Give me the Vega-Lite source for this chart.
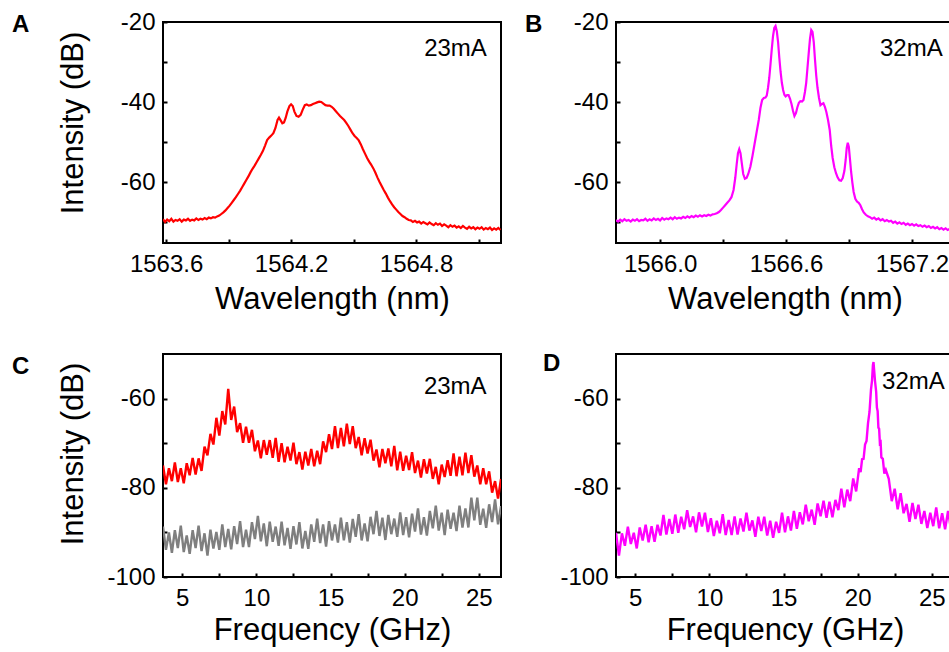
{
  "$schema": "https://vega.github.io/schema/vega-lite/v6.json",
  "padding": {"left": 11, "top": 9, "right": 0, "bottom": 0},
  "background": "white",
  "config": {
    "font": "Liberation Sans",
    "view": {"stroke": "black", "strokeWidth": 2},
    "axis": {"grid": false, "domain": false, "tickColor": "black", "tickWidth": 2, "tickSize": -4, "labelFont": "Liberation Sans", "labelFontSize": 24, "labelColor": "black", "labelPadding": 13, "labelFlush": false, "labelOverlap": false, "labelBound": false, "titleFont": "Liberation Sans", "titleFontSize": 31, "titleFontWeight": "normal", "titleColor": "black"},
    "title": {"font": "Liberation Sans", "fontSize": 24, "fontWeight": "bold", "color": "black", "anchor": "start", "frame": "group", "offset": 0},
    "text": {"font": "Liberation Sans", "fontSize": 24, "color": "black"}
  },
  "bounds": "flush",
  "columns": 2,
  "spacing": {"row": 111, "column": 115},
  "datasets": {
    "a": [{"nm":1563.585,"dB":-69.3},{"nm":1563.595,"dB":-70.0},{"nm":1563.605,"dB":-69.4},{"nm":1563.615,"dB":-69.8},{"nm":1563.625,"dB":-69.2},{"nm":1563.635,"dB":-69.9},{"nm":1563.645,"dB":-69.5},{"nm":1563.655,"dB":-69.7},{"nm":1563.665,"dB":-69.3},{"nm":1563.675,"dB":-69.9},{"nm":1563.685,"dB":-69.4},{"nm":1563.695,"dB":-69.6},{"nm":1563.705,"dB":-69.2},{"nm":1563.715,"dB":-69.7},{"nm":1563.725,"dB":-69.4},{"nm":1563.735,"dB":-69.6},{"nm":1563.745,"dB":-69.1},{"nm":1563.755,"dB":-69.5},{"nm":1563.765,"dB":-69.2},{"nm":1563.775,"dB":-69.4},{"nm":1563.785,"dB":-69.0},{"nm":1563.795,"dB":-69.3},{"nm":1563.805,"dB":-68.9},{"nm":1563.815,"dB":-69.1},{"nm":1563.825,"dB":-68.8},{"nm":1563.835,"dB":-68.9},{"nm":1563.845,"dB":-68.6},{"nm":1563.855,"dB":-68.4},{"nm":1563.865,"dB":-68.0},{"nm":1563.875,"dB":-67.6},{"nm":1563.885,"dB":-67.1},{"nm":1563.895,"dB":-66.5},{"nm":1563.905,"dB":-65.9},{"nm":1563.915,"dB":-65.2},{"nm":1563.925,"dB":-64.5},{"nm":1563.935,"dB":-63.8},{"nm":1563.945,"dB":-63.0},{"nm":1563.955,"dB":-62.2},{"nm":1563.965,"dB":-61.3},{"nm":1563.975,"dB":-60.4},{"nm":1563.985,"dB":-59.5},{"nm":1563.995,"dB":-58.6},{"nm":1564.005,"dB":-57.6},{"nm":1564.015,"dB":-56.7},{"nm":1564.025,"dB":-55.9},{"nm":1564.035,"dB":-55.0},{"nm":1564.045,"dB":-54.1},{"nm":1564.055,"dB":-53.2},{"nm":1564.065,"dB":-52.2},{"nm":1564.075,"dB":-50.9},{"nm":1564.085,"dB":-49.5},{"nm":1564.095,"dB":-48.9},{"nm":1564.105,"dB":-48.4},{"nm":1564.115,"dB":-47.8},{"nm":1564.125,"dB":-46.5},{"nm":1564.135,"dB":-44.5},{"nm":1564.142,"dB":-43.9},{"nm":1564.150,"dB":-44.6},{"nm":1564.158,"dB":-45.3},{"nm":1564.166,"dB":-45.1},{"nm":1564.174,"dB":-44.0},{"nm":1564.182,"dB":-42.4},{"nm":1564.192,"dB":-41.0},{"nm":1564.200,"dB":-40.6},{"nm":1564.208,"dB":-41.0},{"nm":1564.216,"dB":-42.4},{"nm":1564.226,"dB":-43.5},{"nm":1564.236,"dB":-43.7},{"nm":1564.246,"dB":-43.2},{"nm":1564.256,"dB":-41.9},{"nm":1564.266,"dB":-40.8},{"nm":1564.275,"dB":-40.6},{"nm":1564.285,"dB":-40.9},{"nm":1564.295,"dB":-40.8},{"nm":1564.305,"dB":-40.5},{"nm":1564.315,"dB":-40.3},{"nm":1564.325,"dB":-40.1},{"nm":1564.335,"dB":-39.9},{"nm":1564.345,"dB":-40.0},{"nm":1564.355,"dB":-40.4},{"nm":1564.365,"dB":-40.8},{"nm":1564.375,"dB":-40.9},{"nm":1564.385,"dB":-40.9},{"nm":1564.395,"dB":-41.2},{"nm":1564.405,"dB":-41.7},{"nm":1564.415,"dB":-42.3},{"nm":1564.425,"dB":-42.9},{"nm":1564.435,"dB":-43.5},{"nm":1564.445,"dB":-44.0},{"nm":1564.455,"dB":-44.5},{"nm":1564.465,"dB":-45.2},{"nm":1564.475,"dB":-46.0},{"nm":1564.485,"dB":-46.9},{"nm":1564.495,"dB":-47.8},{"nm":1564.505,"dB":-48.5},{"nm":1564.515,"dB":-49.0},{"nm":1564.525,"dB":-49.6},{"nm":1564.535,"dB":-50.6},{"nm":1564.545,"dB":-51.8},{"nm":1564.555,"dB":-52.9},{"nm":1564.565,"dB":-54.0},{"nm":1564.575,"dB":-54.9},{"nm":1564.585,"dB":-55.7},{"nm":1564.595,"dB":-56.6},{"nm":1564.605,"dB":-57.7},{"nm":1564.615,"dB":-58.9},{"nm":1564.625,"dB":-60.0},{"nm":1564.635,"dB":-61.0},{"nm":1564.645,"dB":-62.0},{"nm":1564.655,"dB":-62.9},{"nm":1564.665,"dB":-63.9},{"nm":1564.675,"dB":-64.8},{"nm":1564.685,"dB":-65.6},{"nm":1564.695,"dB":-66.3},{"nm":1564.705,"dB":-66.9},{"nm":1564.715,"dB":-67.5},{"nm":1564.725,"dB":-68.0},{"nm":1564.735,"dB":-68.5},{"nm":1564.745,"dB":-68.8},{"nm":1564.755,"dB":-69.2},{"nm":1564.765,"dB":-69.5},{"nm":1564.775,"dB":-69.6},{"nm":1564.785,"dB":-70.0},{"nm":1564.795,"dB":-69.7},{"nm":1564.805,"dB":-70.1},{"nm":1564.815,"dB":-69.9},{"nm":1564.825,"dB":-70.4},{"nm":1564.835,"dB":-70.0},{"nm":1564.845,"dB":-70.3},{"nm":1564.855,"dB":-70.6},{"nm":1564.865,"dB":-70.1},{"nm":1564.875,"dB":-70.5},{"nm":1564.885,"dB":-70.8},{"nm":1564.895,"dB":-70.3},{"nm":1564.905,"dB":-70.7},{"nm":1564.915,"dB":-70.4},{"nm":1564.925,"dB":-71.0},{"nm":1564.935,"dB":-70.6},{"nm":1564.945,"dB":-70.9},{"nm":1564.955,"dB":-71.3},{"nm":1564.965,"dB":-70.8},{"nm":1564.975,"dB":-71.2},{"nm":1564.985,"dB":-70.9},{"nm":1564.995,"dB":-71.4},{"nm":1565.005,"dB":-71.1},{"nm":1565.015,"dB":-71.5},{"nm":1565.025,"dB":-71.0},{"nm":1565.035,"dB":-71.4},{"nm":1565.045,"dB":-71.7},{"nm":1565.055,"dB":-71.2},{"nm":1565.065,"dB":-71.6},{"nm":1565.075,"dB":-71.3},{"nm":1565.085,"dB":-71.8},{"nm":1565.095,"dB":-71.4},{"nm":1565.105,"dB":-71.7},{"nm":1565.115,"dB":-71.3},{"nm":1565.125,"dB":-71.9},{"nm":1565.135,"dB":-71.5},{"nm":1565.145,"dB":-71.8},{"nm":1565.155,"dB":-71.4},{"nm":1565.165,"dB":-72.0},{"nm":1565.175,"dB":-71.6},{"nm":1565.185,"dB":-71.9},{"nm":1565.195,"dB":-71.5},{"nm":1565.205,"dB":-72.0}],
    "b": [{"nm":1565.790,"dB":-69.5},{"nm":1565.800,"dB":-69.9},{"nm":1565.810,"dB":-69.4},{"nm":1565.820,"dB":-69.8},{"nm":1565.830,"dB":-69.3},{"nm":1565.840,"dB":-69.7},{"nm":1565.850,"dB":-69.5},{"nm":1565.860,"dB":-69.9},{"nm":1565.870,"dB":-69.4},{"nm":1565.880,"dB":-69.7},{"nm":1565.890,"dB":-69.3},{"nm":1565.900,"dB":-69.8},{"nm":1565.910,"dB":-69.5},{"nm":1565.920,"dB":-69.6},{"nm":1565.930,"dB":-69.2},{"nm":1565.940,"dB":-69.7},{"nm":1565.950,"dB":-69.3},{"nm":1565.960,"dB":-69.6},{"nm":1565.970,"dB":-69.1},{"nm":1565.980,"dB":-69.5},{"nm":1565.990,"dB":-69.2},{"nm":1566.000,"dB":-69.6},{"nm":1566.010,"dB":-69.0},{"nm":1566.020,"dB":-69.4},{"nm":1566.030,"dB":-69.1},{"nm":1566.040,"dB":-69.3},{"nm":1566.050,"dB":-68.9},{"nm":1566.060,"dB":-69.3},{"nm":1566.070,"dB":-68.8},{"nm":1566.080,"dB":-69.2},{"nm":1566.090,"dB":-68.9},{"nm":1566.100,"dB":-69.1},{"nm":1566.110,"dB":-68.7},{"nm":1566.120,"dB":-69.0},{"nm":1566.130,"dB":-68.6},{"nm":1566.140,"dB":-68.9},{"nm":1566.150,"dB":-68.5},{"nm":1566.160,"dB":-68.8},{"nm":1566.170,"dB":-68.4},{"nm":1566.180,"dB":-68.7},{"nm":1566.190,"dB":-68.3},{"nm":1566.200,"dB":-68.6},{"nm":1566.210,"dB":-68.3},{"nm":1566.220,"dB":-68.5},{"nm":1566.230,"dB":-68.2},{"nm":1566.240,"dB":-68.4},{"nm":1566.250,"dB":-68.1},{"nm":1566.260,"dB":-68.0},{"nm":1566.270,"dB":-67.8},{"nm":1566.280,"dB":-67.5},{"nm":1566.290,"dB":-67.0},{"nm":1566.300,"dB":-66.4},{"nm":1566.310,"dB":-65.8},{"nm":1566.320,"dB":-65.2},{"nm":1566.330,"dB":-64.6},{"nm":1566.340,"dB":-63.8},{"nm":1566.350,"dB":-62.0},{"nm":1566.358,"dB":-59.0},{"nm":1566.365,"dB":-55.5},{"nm":1566.371,"dB":-52.8},{"nm":1566.377,"dB":-51.8},{"nm":1566.383,"dB":-52.8},{"nm":1566.389,"dB":-55.2},{"nm":1566.396,"dB":-58.0},{"nm":1566.404,"dB":-59.2},{"nm":1566.412,"dB":-59.0},{"nm":1566.420,"dB":-58.0},{"nm":1566.430,"dB":-56.2},{"nm":1566.440,"dB":-53.5},{"nm":1566.450,"dB":-50.5},{"nm":1566.460,"dB":-47.5},{"nm":1566.470,"dB":-44.5},{"nm":1566.478,"dB":-41.5},{"nm":1566.486,"dB":-39.5},{"nm":1566.494,"dB":-39.0},{"nm":1566.502,"dB":-38.9},{"nm":1566.508,"dB":-38.4},{"nm":1566.514,"dB":-36.5},{"nm":1566.520,"dB":-34.0},{"nm":1566.526,"dB":-30.5},{"nm":1566.532,"dB":-26.8},{"nm":1566.538,"dB":-23.5},{"nm":1566.544,"dB":-21.5},{"nm":1566.550,"dB":-21.0},{"nm":1566.556,"dB":-22.3},{"nm":1566.562,"dB":-25.0},{"nm":1566.568,"dB":-29.0},{"nm":1566.574,"dB":-32.5},{"nm":1566.580,"dB":-35.2},{"nm":1566.586,"dB":-37.0},{"nm":1566.592,"dB":-38.2},{"nm":1566.598,"dB":-38.6},{"nm":1566.605,"dB":-38.3},{"nm":1566.612,"dB":-38.3},{"nm":1566.619,"dB":-39.2},{"nm":1566.626,"dB":-40.5},{"nm":1566.633,"dB":-42.2},{"nm":1566.640,"dB":-43.5},{"nm":1566.647,"dB":-42.8},{"nm":1566.654,"dB":-41.3},{"nm":1566.661,"dB":-40.2},{"nm":1566.668,"dB":-39.8},{"nm":1566.676,"dB":-39.9},{"nm":1566.683,"dB":-39.5},{"nm":1566.690,"dB":-37.5},{"nm":1566.696,"dB":-35.2},{"nm":1566.702,"dB":-31.5},{"nm":1566.708,"dB":-27.8},{"nm":1566.714,"dB":-24.2},{"nm":1566.720,"dB":-22.0},{"nm":1566.726,"dB":-22.5},{"nm":1566.732,"dB":-25.0},{"nm":1566.738,"dB":-29.5},{"nm":1566.744,"dB":-33.5},{"nm":1566.750,"dB":-36.5},{"nm":1566.757,"dB":-39.0},{"nm":1566.764,"dB":-40.8},{"nm":1566.771,"dB":-40.5},{"nm":1566.778,"dB":-40.3},{"nm":1566.785,"dB":-41.2},{"nm":1566.792,"dB":-42.5},{"nm":1566.800,"dB":-44.5},{"nm":1566.808,"dB":-47.0},{"nm":1566.815,"dB":-51.0},{"nm":1566.822,"dB":-54.0},{"nm":1566.830,"dB":-56.3},{"nm":1566.838,"dB":-57.8},{"nm":1566.846,"dB":-58.9},{"nm":1566.854,"dB":-59.6},{"nm":1566.862,"dB":-59.7},{"nm":1566.870,"dB":-59.0},{"nm":1566.878,"dB":-57.2},{"nm":1566.884,"dB":-54.5},{"nm":1566.889,"dB":-51.5},{"nm":1566.894,"dB":-50.2},{"nm":1566.899,"dB":-51.2},{"nm":1566.904,"dB":-54.0},{"nm":1566.910,"dB":-57.5},{"nm":1566.916,"dB":-60.2},{"nm":1566.922,"dB":-62.5},{"nm":1566.930,"dB":-64.2},{"nm":1566.938,"dB":-64.9},{"nm":1566.946,"dB":-65.2},{"nm":1566.954,"dB":-65.8},{"nm":1566.962,"dB":-66.8},{"nm":1566.970,"dB":-67.6},{"nm":1566.980,"dB":-68.2},{"nm":1566.990,"dB":-68.6},{"nm":1567.000,"dB":-68.8},{"nm":1567.010,"dB":-69.2},{"nm":1567.020,"dB":-68.9},{"nm":1567.030,"dB":-69.4},{"nm":1567.040,"dB":-69.1},{"nm":1567.050,"dB":-69.6},{"nm":1567.060,"dB":-69.3},{"nm":1567.070,"dB":-69.8},{"nm":1567.080,"dB":-69.5},{"nm":1567.090,"dB":-69.9},{"nm":1567.100,"dB":-69.7},{"nm":1567.110,"dB":-70.2},{"nm":1567.120,"dB":-69.9},{"nm":1567.130,"dB":-70.4},{"nm":1567.140,"dB":-70.1},{"nm":1567.150,"dB":-70.5},{"nm":1567.160,"dB":-70.2},{"nm":1567.170,"dB":-70.7},{"nm":1567.180,"dB":-70.4},{"nm":1567.190,"dB":-70.8},{"nm":1567.200,"dB":-70.5},{"nm":1567.210,"dB":-70.9},{"nm":1567.220,"dB":-70.6},{"nm":1567.230,"dB":-71.0},{"nm":1567.240,"dB":-70.8},{"nm":1567.250,"dB":-71.2},{"nm":1567.260,"dB":-70.9},{"nm":1567.270,"dB":-71.3},{"nm":1567.280,"dB":-71.0},{"nm":1567.290,"dB":-71.5},{"nm":1567.300,"dB":-71.2},{"nm":1567.310,"dB":-71.6},{"nm":1567.320,"dB":-71.3},{"nm":1567.330,"dB":-71.8},{"nm":1567.340,"dB":-71.5},{"nm":1567.350,"dB":-71.9},{"nm":1567.360,"dB":-71.6},{"nm":1567.370,"dB":-72.0},{"nm":1567.380,"dB":-71.7},{"nm":1567.390,"dB":-72.1},{"nm":1567.400,"dB":-71.8}],
    "red": [{"GHz":3.7,"dB":-75.0},{"GHz":3.9,"dB":-79.2},{"GHz":4.1,"dB":-75.6},{"GHz":4.3,"dB":-78.5},{"GHz":4.5,"dB":-74.3},{"GHz":4.7,"dB":-78.7},{"GHz":4.9,"dB":-75.6},{"GHz":5.1,"dB":-79.0},{"GHz":5.3,"dB":-74.5},{"GHz":5.5,"dB":-77.2},{"GHz":5.7,"dB":-73.3},{"GHz":5.9,"dB":-77.0},{"GHz":6.1,"dB":-73.4},{"GHz":6.3,"dB":-76.2},{"GHz":6.5,"dB":-70.8},{"GHz":6.7,"dB":-72.7},{"GHz":6.9,"dB":-67.9},{"GHz":7.1,"dB":-70.3},{"GHz":7.3,"dB":-64.3},{"GHz":7.5,"dB":-68.3},{"GHz":7.7,"dB":-62.8},{"GHz":7.9,"dB":-65.8},{"GHz":8.1,"dB":-57.8},{"GHz":8.3,"dB":-64.8},{"GHz":8.5,"dB":-61.8},{"GHz":8.7,"dB":-67.5},{"GHz":8.9,"dB":-65.5},{"GHz":9.1,"dB":-69.9},{"GHz":9.3,"dB":-66.3},{"GHz":9.5,"dB":-69.9},{"GHz":9.7,"dB":-67.0},{"GHz":9.9,"dB":-71.8},{"GHz":10.1,"dB":-69.4},{"GHz":10.3,"dB":-73.4},{"GHz":10.5,"dB":-69.3},{"GHz":10.7,"dB":-72.6},{"GHz":10.9,"dB":-69.3},{"GHz":11.1,"dB":-73.3},{"GHz":11.3,"dB":-68.8},{"GHz":11.5,"dB":-74.2},{"GHz":11.7,"dB":-70.0},{"GHz":11.9,"dB":-74.3},{"GHz":12.1,"dB":-70.8},{"GHz":12.3,"dB":-73.9},{"GHz":12.5,"dB":-69.9},{"GHz":12.7,"dB":-74.7},{"GHz":12.9,"dB":-72.0},{"GHz":13.1,"dB":-75.9},{"GHz":13.3,"dB":-71.9},{"GHz":13.5,"dB":-75.0},{"GHz":13.7,"dB":-71.3},{"GHz":13.9,"dB":-75.2},{"GHz":14.1,"dB":-71.7},{"GHz":14.3,"dB":-74.7},{"GHz":14.5,"dB":-69.6},{"GHz":14.7,"dB":-72.0},{"GHz":14.9,"dB":-68.0},{"GHz":15.1,"dB":-71.3},{"GHz":15.3,"dB":-66.2},{"GHz":15.5,"dB":-71.1},{"GHz":15.7,"dB":-66.6},{"GHz":15.9,"dB":-70.7},{"GHz":16.1,"dB":-65.6},{"GHz":16.3,"dB":-70.2},{"GHz":16.5,"dB":-66.2},{"GHz":16.7,"dB":-71.1},{"GHz":16.9,"dB":-68.6},{"GHz":17.1,"dB":-72.7},{"GHz":17.3,"dB":-68.9},{"GHz":17.5,"dB":-72.3},{"GHz":17.7,"dB":-69.2},{"GHz":17.9,"dB":-73.9},{"GHz":18.1,"dB":-71.4},{"GHz":18.3,"dB":-75.4},{"GHz":18.5,"dB":-71.3},{"GHz":18.7,"dB":-74.5},{"GHz":18.9,"dB":-71.2},{"GHz":19.1,"dB":-75.2},{"GHz":19.3,"dB":-70.6},{"GHz":19.5,"dB":-76.1},{"GHz":19.7,"dB":-71.9},{"GHz":19.9,"dB":-76.2},{"GHz":20.1,"dB":-72.8},{"GHz":20.3,"dB":-76.0},{"GHz":20.5,"dB":-72.0},{"GHz":20.7,"dB":-76.7},{"GHz":20.9,"dB":-73.9},{"GHz":21.1,"dB":-77.7},{"GHz":21.3,"dB":-73.6},{"GHz":21.5,"dB":-76.8},{"GHz":21.7,"dB":-73.5},{"GHz":21.9,"dB":-78.0},{"GHz":22.1,"dB":-75.3},{"GHz":22.3,"dB":-79.2},{"GHz":22.5,"dB":-74.8},{"GHz":22.7,"dB":-77.6},{"GHz":22.9,"dB":-73.8},{"GHz":23.1,"dB":-77.3},{"GHz":23.3,"dB":-72.3},{"GHz":23.5,"dB":-77.4},{"GHz":23.7,"dB":-73.0},{"GHz":23.9,"dB":-77.2},{"GHz":24.1,"dB":-72.1},{"GHz":24.3,"dB":-76.7},{"GHz":24.5,"dB":-72.7},{"GHz":24.7,"dB":-77.5},{"GHz":24.9,"dB":-75.0},{"GHz":25.1,"dB":-79.2},{"GHz":25.3,"dB":-75.6},{"GHz":25.5,"dB":-79.2},{"GHz":25.7,"dB":-76.3},{"GHz":25.9,"dB":-81.1},{"GHz":26.1,"dB":-78.5},{"GHz":26.3,"dB":-82.4},{"GHz":26.5,"dB":-78.0}],
    "gray": [{"GHz":3.7,"dB":-88.7},{"GHz":3.9,"dB":-93.9},{"GHz":4.1,"dB":-90.0},{"GHz":4.3,"dB":-94.6},{"GHz":4.5,"dB":-89.5},{"GHz":4.7,"dB":-93.5},{"GHz":4.9,"dB":-88.5},{"GHz":5.1,"dB":-94.4},{"GHz":5.3,"dB":-90.7},{"GHz":5.5,"dB":-94.8},{"GHz":5.7,"dB":-89.5},{"GHz":5.9,"dB":-93.5},{"GHz":6.1,"dB":-88.5},{"GHz":6.3,"dB":-94.2},{"GHz":6.5,"dB":-90.2},{"GHz":6.7,"dB":-95.2},{"GHz":6.9,"dB":-89.4},{"GHz":7.1,"dB":-93.6},{"GHz":7.3,"dB":-89.9},{"GHz":7.5,"dB":-93.9},{"GHz":7.7,"dB":-88.2},{"GHz":7.9,"dB":-93.3},{"GHz":8.1,"dB":-89.2},{"GHz":8.3,"dB":-93.8},{"GHz":8.5,"dB":-88.6},{"GHz":8.7,"dB":-92.6},{"GHz":8.9,"dB":-87.5},{"GHz":9.1,"dB":-93.3},{"GHz":9.3,"dB":-89.4},{"GHz":9.5,"dB":-93.3},{"GHz":9.7,"dB":-87.7},{"GHz":9.9,"dB":-91.5},{"GHz":10.1,"dB":-86.3},{"GHz":10.3,"dB":-92.0},{"GHz":10.5,"dB":-88.0},{"GHz":10.7,"dB":-93.1},{"GHz":10.9,"dB":-87.6},{"GHz":11.1,"dB":-92.1},{"GHz":11.3,"dB":-88.7},{"GHz":11.5,"dB":-93.0},{"GHz":11.7,"dB":-87.6},{"GHz":11.9,"dB":-92.9},{"GHz":12.1,"dB":-89.0},{"GHz":12.3,"dB":-93.7},{"GHz":12.5,"dB":-88.6},{"GHz":12.7,"dB":-92.7},{"GHz":12.9,"dB":-87.7},{"GHz":13.1,"dB":-93.6},{"GHz":13.3,"dB":-89.7},{"GHz":13.5,"dB":-93.7},{"GHz":13.7,"dB":-88.2},{"GHz":13.9,"dB":-92.1},{"GHz":14.1,"dB":-86.9},{"GHz":14.3,"dB":-92.4},{"GHz":14.5,"dB":-88.2},{"GHz":14.7,"dB":-93.2},{"GHz":14.9,"dB":-87.5},{"GHz":15.1,"dB":-91.8},{"GHz":15.3,"dB":-88.2},{"GHz":15.5,"dB":-92.3},{"GHz":15.7,"dB":-86.7},{"GHz":15.9,"dB":-91.8},{"GHz":16.1,"dB":-87.7},{"GHz":16.3,"dB":-92.3},{"GHz":16.5,"dB":-87.0},{"GHz":16.7,"dB":-91.0},{"GHz":16.9,"dB":-85.9},{"GHz":17.1,"dB":-91.8},{"GHz":17.3,"dB":-88.0},{"GHz":17.5,"dB":-92.0},{"GHz":17.7,"dB":-86.5},{"GHz":17.9,"dB":-90.4},{"GHz":18.1,"dB":-85.2},{"GHz":18.3,"dB":-90.8},{"GHz":18.5,"dB":-86.7},{"GHz":18.7,"dB":-91.7},{"GHz":18.9,"dB":-86.1},{"GHz":19.1,"dB":-90.4},{"GHz":19.3,"dB":-86.9},{"GHz":19.5,"dB":-91.0},{"GHz":19.7,"dB":-85.5},{"GHz":19.9,"dB":-90.6},{"GHz":20.1,"dB":-86.6},{"GHz":20.3,"dB":-91.1},{"GHz":20.5,"dB":-85.8},{"GHz":20.7,"dB":-89.8},{"GHz":20.9,"dB":-84.6},{"GHz":21.1,"dB":-90.5},{"GHz":21.3,"dB":-86.6},{"GHz":21.5,"dB":-90.7},{"GHz":21.7,"dB":-85.2},{"GHz":21.9,"dB":-89.1},{"GHz":22.1,"dB":-84.0},{"GHz":22.3,"dB":-89.6},{"GHz":22.5,"dB":-85.6},{"GHz":22.7,"dB":-90.6},{"GHz":22.9,"dB":-84.9},{"GHz":23.1,"dB":-89.2},{"GHz":23.3,"dB":-85.6},{"GHz":23.5,"dB":-89.7},{"GHz":23.7,"dB":-84.0},{"GHz":23.9,"dB":-88.9},{"GHz":24.1,"dB":-84.6},{"GHz":24.3,"dB":-88.9},{"GHz":24.5,"dB":-82.2},{"GHz":24.7,"dB":-87.3},{"GHz":24.9,"dB":-82.2},{"GHz":25.1,"dB":-88.3},{"GHz":25.3,"dB":-84.7},{"GHz":25.5,"dB":-89.0},{"GHz":25.7,"dB":-83.7},{"GHz":25.9,"dB":-87.7},{"GHz":26.1,"dB":-82.6},{"GHz":26.3,"dB":-88.2},{"GHz":26.5,"dB":-84.1}],
    "magenta": [{"GHz":3.7,"dB":-90.1},{"GHz":3.9,"dB":-95.2},{"GHz":4.1,"dB":-90.2},{"GHz":4.3,"dB":-93.0},{"GHz":4.5,"dB":-88.7},{"GHz":4.7,"dB":-92.6},{"GHz":4.9,"dB":-90.1},{"GHz":5.1,"dB":-93.6},{"GHz":5.3,"dB":-88.9},{"GHz":5.5,"dB":-91.8},{"GHz":5.7,"dB":-88.3},{"GHz":5.9,"dB":-92.2},{"GHz":6.1,"dB":-88.6},{"GHz":6.3,"dB":-92.1},{"GHz":6.5,"dB":-88.3},{"GHz":6.7,"dB":-90.7},{"GHz":6.9,"dB":-86.1},{"GHz":7.1,"dB":-90.5},{"GHz":7.3,"dB":-87.0},{"GHz":7.5,"dB":-90.3},{"GHz":7.7,"dB":-86.0},{"GHz":7.9,"dB":-90.1},{"GHz":8.1,"dB":-86.5},{"GHz":8.3,"dB":-89.3},{"GHz":8.5,"dB":-85.0},{"GHz":8.7,"dB":-88.8},{"GHz":8.9,"dB":-86.4},{"GHz":9.1,"dB":-90.0},{"GHz":9.3,"dB":-85.5},{"GHz":9.5,"dB":-88.7},{"GHz":9.7,"dB":-85.6},{"GHz":9.9,"dB":-89.9},{"GHz":10.1,"dB":-86.8},{"GHz":10.3,"dB":-90.8},{"GHz":10.5,"dB":-87.4},{"GHz":10.7,"dB":-90.2},{"GHz":10.9,"dB":-85.9},{"GHz":11.1,"dB":-90.6},{"GHz":11.3,"dB":-87.2},{"GHz":11.5,"dB":-90.6},{"GHz":11.7,"dB":-86.4},{"GHz":11.9,"dB":-90.5},{"GHz":12.1,"dB":-86.9},{"GHz":12.3,"dB":-89.8},{"GHz":12.5,"dB":-85.6},{"GHz":12.7,"dB":-89.6},{"GHz":12.9,"dB":-87.3},{"GHz":13.1,"dB":-91.0},{"GHz":13.3,"dB":-86.5},{"GHz":13.5,"dB":-89.7},{"GHz":13.7,"dB":-86.5},{"GHz":13.9,"dB":-90.7},{"GHz":14.1,"dB":-87.4},{"GHz":14.3,"dB":-91.2},{"GHz":14.5,"dB":-87.6},{"GHz":14.7,"dB":-90.1},{"GHz":14.9,"dB":-85.6},{"GHz":15.1,"dB":-90.0},{"GHz":15.3,"dB":-86.4},{"GHz":15.5,"dB":-89.6},{"GHz":15.7,"dB":-85.2},{"GHz":15.9,"dB":-89.2},{"GHz":16.1,"dB":-85.5},{"GHz":16.3,"dB":-88.2},{"GHz":16.5,"dB":-83.8},{"GHz":16.7,"dB":-87.5},{"GHz":16.9,"dB":-84.9},{"GHz":17.1,"dB":-88.3},{"GHz":17.3,"dB":-83.5},{"GHz":17.5,"dB":-86.4},{"GHz":17.7,"dB":-82.9},{"GHz":17.9,"dB":-86.7},{"GHz":18.1,"dB":-83.1},{"GHz":18.3,"dB":-86.6},{"GHz":18.5,"dB":-82.7},{"GHz":18.7,"dB":-85.0},{"GHz":18.9,"dB":-80.2},{"GHz":19.1,"dB":-84.4},{"GHz":19.3,"dB":-80.4},{"GHz":19.5,"dB":-83.0},{"GHz":19.7,"dB":-77.9},{"GHz":19.9,"dB":-80.8},{"GHz":20.1,"dB":-75.6},{"GHz":20.2,"dB":-76.5},{"GHz":20.3,"dB":-73.6},{"GHz":20.4,"dB":-73.5},{"GHz":20.5,"dB":-70.3},{"GHz":20.6,"dB":-69.5},{"GHz":20.7,"dB":-65.5},{"GHz":20.8,"dB":-63.0},{"GHz":20.9,"dB":-58.0},{"GHz":20.97,"dB":-56.0},{"GHz":21.03,"dB":-52.5},{"GHz":21.07,"dB":-51.8},{"GHz":21.11,"dB":-53.5},{"GHz":21.17,"dB":-56.0},{"GHz":21.25,"dB":-58.5},{"GHz":21.3,"dB":-62.0},{"GHz":21.35,"dB":-62.8},{"GHz":21.4,"dB":-66.5},{"GHz":21.45,"dB":-66.8},{"GHz":21.5,"dB":-70.0},{"GHz":21.55,"dB":-69.8},{"GHz":21.6,"dB":-73.2},{"GHz":21.7,"dB":-73.5},{"GHz":21.8,"dB":-76.8},{"GHz":21.9,"dB":-76.0},{"GHz":22.1,"dB":-78.0},{"GHz":22.3,"dB":-83.0},{"GHz":22.5,"dB":-80.2},{"GHz":22.7,"dB":-84.8},{"GHz":22.9,"dB":-81.2},{"GHz":23.1,"dB":-85.7},{"GHz":23.3,"dB":-83.6},{"GHz":23.5,"dB":-87.6},{"GHz":23.7,"dB":-83.4},{"GHz":23.9,"dB":-87.0},{"GHz":24.1,"dB":-83.8},{"GHz":24.3,"dB":-88.1},{"GHz":24.5,"dB":-85.2},{"GHz":24.7,"dB":-89.0},{"GHz":24.9,"dB":-85.6},{"GHz":25.1,"dB":-88.6},{"GHz":25.3,"dB":-84.4},{"GHz":25.5,"dB":-89.1},{"GHz":25.7,"dB":-85.7},{"GHz":25.9,"dB":-89.3},{"GHz":26.1,"dB":-85.2},{"GHz":26.3,"dB":-89.5},{"GHz":26.5,"dB":-86.0}]
  },
  "concat": [
    {
      "width": 338, "height": 221,
      "title": {"text": "A", "dx": -151, "dy": 31},
      "layer": [
        {
          "data": {"name": "a"},
          "mark": {"type": "line", "color": "#ff0000", "strokeWidth": 2.2, "clip": true},
          "encoding": {
            "x": {"field": "nm", "type": "quantitative", "scale": {"domain": [1563.585, 1565.208], "nice": false, "zero": false},
              "axis": {"title": "Wavelength (nm)", "titleY": 41.5, "values": [1563.6, 1563.9, 1564.2, 1564.5, 1564.8, 1565.1], "labelExpr": "(datum.value < 1563.7 || (datum.value > 1564.1 && datum.value < 1564.3) || (datum.value > 1564.7 && datum.value < 1564.9)) ? format(datum.value, '.1f') : ''"}},
            "y": {"field": "dB", "type": "quantitative", "scale": {"domain": [-75.25, -20], "nice": false, "zero": false},
              "axis": {"title": "Intensity (dB)", "titleX": -73.5, "titleY": 100.5, "values": [-70, -60, -50, -40, -30, -20], "labelPadding": 12, "labelExpr": "datum.value % 20 === 0 ? '' + datum.value : ''"}}
          }
        },
        {
          "data": {"values": [{}]},
          "mark": {"type": "text", "text": "23mA", "align": "right", "baseline": "alphabetic"},
          "encoding": {"x": {"datum": 1565.14, "type": "quantitative"}, "y": {"datum": -28.4, "type": "quantitative"}}
        }
      ]
    },
    {
      "width": 338, "height": 221,
      "title": {"text": "B", "dx": -91, "dy": 31},
      "layer": [
        {
          "data": {"name": "b"},
          "mark": {"type": "line", "color": "#ff00ff", "strokeWidth": 2.2, "clip": true},
          "encoding": {
            "x": {"field": "nm", "type": "quantitative", "scale": {"domain": [1565.79, 1567.40], "nice": false, "zero": false},
              "axis": {"title": "Wavelength (nm)", "titleY": 41.5, "values": [1566.0, 1566.3, 1566.6, 1566.9, 1567.2], "labelExpr": "(datum.value < 1566.1 || (datum.value > 1566.5 && datum.value < 1566.7) || datum.value > 1567.1) ? format(datum.value, '.1f') : ''"}},
            "y": {"field": "dB", "type": "quantitative", "scale": {"domain": [-75.25, -20], "nice": false, "zero": false},
              "axis": {"title": null, "values": [-70, -60, -50, -40, -30, -20], "labelPadding": 12, "labelExpr": "datum.value % 20 === 0 ? '' + datum.value : ''"}}
          }
        },
        {
          "data": {"values": [{}]},
          "mark": {"type": "text", "text": "32mA", "align": "right", "baseline": "alphabetic"},
          "encoding": {"x": {"datum": 1567.346, "type": "quantitative"}, "y": {"datum": -28.4, "type": "quantitative"}}
        }
      ]
    },
    {
      "width": 338, "height": 223,
      "title": {"text": "C", "dx": -151, "dy": 28.5},
      "layer": [
        {
          "data": {"name": "gray"},
          "mark": {"type": "line", "color": "#7f7f7f", "strokeWidth": 2.4, "clip": true},
          "encoding": {
            "x": {"field": "GHz", "type": "quantitative", "scale": {"domain": [3.7, 26.5], "nice": false, "zero": false},
              "axis": {"title": "Frequency (GHz)", "titleY": 38.1, "values": [5, 7.5, 10, 12.5, 15, 17.5, 20, 22.5, 25], "labelExpr": "datum.value % 5 === 0 ? '' + datum.value : ''"}},
            "y": {"field": "dB", "type": "quantitative", "scale": {"domain": [-100, -50], "nice": false, "zero": false},
              "axis": {"title": "Intensity (dB)", "titleX": -73.5, "titleY": 99.5, "values": [-100, -90, -80, -70, -60], "labelPadding": 12, "labelExpr": "datum.value % 20 === 0 ? '' + datum.value : ''"}}
          }
        },
        {
          "data": {"name": "red"},
          "mark": {"type": "line", "color": "#ff0000", "strokeWidth": 2.4, "clip": true},
          "encoding": {
            "x": {"field": "GHz", "type": "quantitative"},
            "y": {"field": "dB", "type": "quantitative"}
          }
        },
        {
          "data": {"values": [{}]},
          "mark": {"type": "text", "text": "23mA", "align": "right", "baseline": "alphabetic"},
          "encoding": {"x": {"datum": 25.53, "type": "quantitative"}, "y": {"datum": -58.9, "type": "quantitative"}}
        }
      ]
    },
    {
      "width": 338, "height": 223,
      "title": {"text": "D", "dx": -73, "dy": 26.3},
      "layer": [
        {
          "data": {"name": "magenta"},
          "mark": {"type": "line", "color": "#ff00ff", "strokeWidth": 2.4, "clip": true},
          "encoding": {
            "x": {"field": "GHz", "type": "quantitative", "scale": {"domain": [3.7, 26.5], "nice": false, "zero": false},
              "axis": {"title": "Frequency (GHz)", "titleY": 38.1, "values": [5, 7.5, 10, 12.5, 15, 17.5, 20, 22.5, 25], "labelExpr": "datum.value % 5 === 0 ? '' + datum.value : ''"}},
            "y": {"field": "dB", "type": "quantitative", "scale": {"domain": [-100, -50], "nice": false, "zero": false},
              "axis": {"title": null, "values": [-100, -90, -80, -70, -60], "labelPadding": 12, "labelExpr": "datum.value % 20 === 0 ? '' + datum.value : ''"}}
          }
        },
        {
          "data": {"values": [{}]},
          "mark": {"type": "text", "text": "32mA", "align": "left", "baseline": "alphabetic"},
          "encoding": {"x": {"datum": 21.65, "type": "quantitative"}, "y": {"datum": -57.75, "type": "quantitative"}}
        }
      ]
    }
  ]
}
